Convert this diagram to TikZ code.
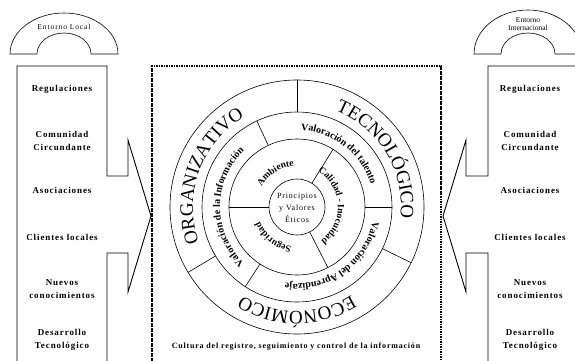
\documentclass[tikz,border=0pt]{standalone}
\usepackage{fontspec}
\setmainfont{Liberation Serif}
\usetikzlibrary{decorations.text}
\newcommand{\ringBig}{\fontsize{19}{19}\selectfont}
\newcommand{\ringSmall}{\bfseries\fontsize{10}{10}\selectfont}
\newcommand{\ringCore}{\bfseries\fontsize{9.5}{9.5}\selectfont}

\begin{document}
\begin{tikzpicture}
[x=1pt,y=1pt,%
  lineDecorate/.style={-,line width=0.9pt},%
  thinDecorate/.style={-,line width=0.6pt},%
  dashDecorate/.style={-,line width=1.1pt,dash pattern=on 1.6pt off 0.9pt},%
  boxText/.style={font=\bfseries\fontsize{9}{12.5}\selectfont\addfontfeature{LetterSpace=10},align=center,inner sep=0pt},%
  archText/.style={font=\fontsize{7.5}{8}\selectfont,align=center,inner sep=0pt},%
  coreText/.style={font=\fontsize{8}{12}\selectfont\addfontfeature{LetterSpace=10},align=center,inner sep=0pt},%
  footText/.style={font=\bfseries\fontsize{8}{8}\selectfont\addfontfeature{LetterSpace=10},inner sep=0pt},%
  ringText/.style={decorate,decoration={text along path,text align=center,text={#1}}}]
\clip (0,0) rectangle (575,360);
%% arches on top
\draw[thinDecorate] (10,306) arc[start angle=180,end angle=0,x radius=54,y radius=41]
  -- (91,306) arc[start angle=0,end angle=180,x radius=27,y radius=21] -- cycle;
\node (envLocal) at (64,333) [archText] {\addfontfeature{LetterSpace=12}Entorno Local};
\draw[thinDecorate] (474,306) arc[start angle=180,end angle=0,x radius=54,y radius=44]
  -- (555,306) arc[start angle=0,end angle=180,x radius=27,y radius=21] -- cycle;
\node (envIntl) at (528,336) [archText] {Entorno\\Internacional};
%% side boxes with their arrows
\draw[lineDecorate] (17,-2) -- (17,294) -- (107,294) -- (107,184) -- (128,184) -- (128,220)
  -- (151,144) -- (128,68) -- (128,107) -- (107,107) -- (107,-2);
\draw[lineDecorate] (580,294) -- (488,294) -- (488,184) -- (466,184) -- (466,220)
  -- (443,144) -- (466,68) -- (466,107) -- (488,107) -- (488,-2);
%% dashed frame
\draw[dashDecorate] (152,-2) -- (152,294) -- (441,294) -- (441,-2);
%% left list
\node (regL) at (62,271) [boxText] {Regulaciones};
\node (comL) at (62,219) [boxText] {Comunidad\\Circundante};
\node (asoL) at (62,170) [boxText] {Asociaciones};
\node (cliL) at (62,123) [boxText] {Clientes locales};
\node (nueL) at (62,71) [boxText] {Nuevos\\conocimientos};
\node (desL) at (62,20) [boxText] {Desarrollo\\Tecnológico};
%% right list
\node (regR) at (530,271) [boxText] {Regulaciones};
\node (comR) at (530,219) [boxText] {Comunidad\\Circundante};
\node (asoR) at (530,170) [boxText] {Asociaciones};
\node (cliR) at (530,123) [boxText] {Clientes locales};
\node (nueR) at (530,71) [boxText] {Nuevos\\conocimientos};
\node (desR) at (530,20) [boxText] {Desarrollo\\Tecnológico};
%% rings
\begin{scope}[shift={(297,153)}]
\draw[thinDecorate] (0,0) circle[radius=28];
\draw[thinDecorate] (0,0) circle[radius=68];
\draw[thinDecorate] (0,0) circle[radius=95];
\draw[thinDecorate] (0,0) circle[radius=127];
%% dividers
\draw[thinDecorate] (180:28) -- (180:68);
\draw[thinDecorate] (58:28) -- (58:68);
\draw[thinDecorate] (-63:28) -- (-63:68);
\draw[thinDecorate] (115:68) -- (115:95);
\draw[thinDecorate] (0:68) -- (0:95);
\draw[thinDecorate] (237:68) -- (237:95);
\draw[thinDecorate] (90:95) -- (90:127);
\draw[thinDecorate] (211:95) -- (211:127);
\draw[thinDecorate] (-26:95) -- (-26:127);
\node (core) at (0,-1) [coreText] {Principios\\y Valores\\Éticos};
%% text on the rings
\path[ringText={|\ringBig|ORGANIZATIVO}] (230:104) arc[start angle=230,end angle=90,radius=104];
\path[ringText={|\ringBig|TECNOLÓGICO}] (101:104) arc[start angle=101,end angle=-39,radius=104];
\path[ringText={|\ringBig|ECONÓMICO}] (-20:104) arc[start angle=-20,end angle=-160,radius=104];
\path[ringText={|\ringSmall|Valoración de la Información}] (245:77) arc[start angle=245,end angle=115,radius=77];
\path[ringText={|\ringSmall|Valoración del talento}] (117:77) arc[start angle=117,end angle=-13,radius=77];
\path[ringText={|\ringSmall|Valoración del Aprendizaje}] (10:77) arc[start angle=10,end angle=-120,radius=77];
\path[ringText={|\ringCore|Ambiente}] (172:41) arc[start angle=172,end angle=72,radius=41];
\path[ringText={|\ringCore|Calidad - Inocuidad}] (70:41) arc[start angle=70,end angle=-65,radius=41];
\path[ringText={|\ringCore|Seguridad}] (282:40) arc[start angle=282,end angle=182,radius=40];
\end{scope}
\node (foot) at (296,13) [footText] {Cultura del registro, seguimiento y control de la información};
\end{tikzpicture}
\end{document}
